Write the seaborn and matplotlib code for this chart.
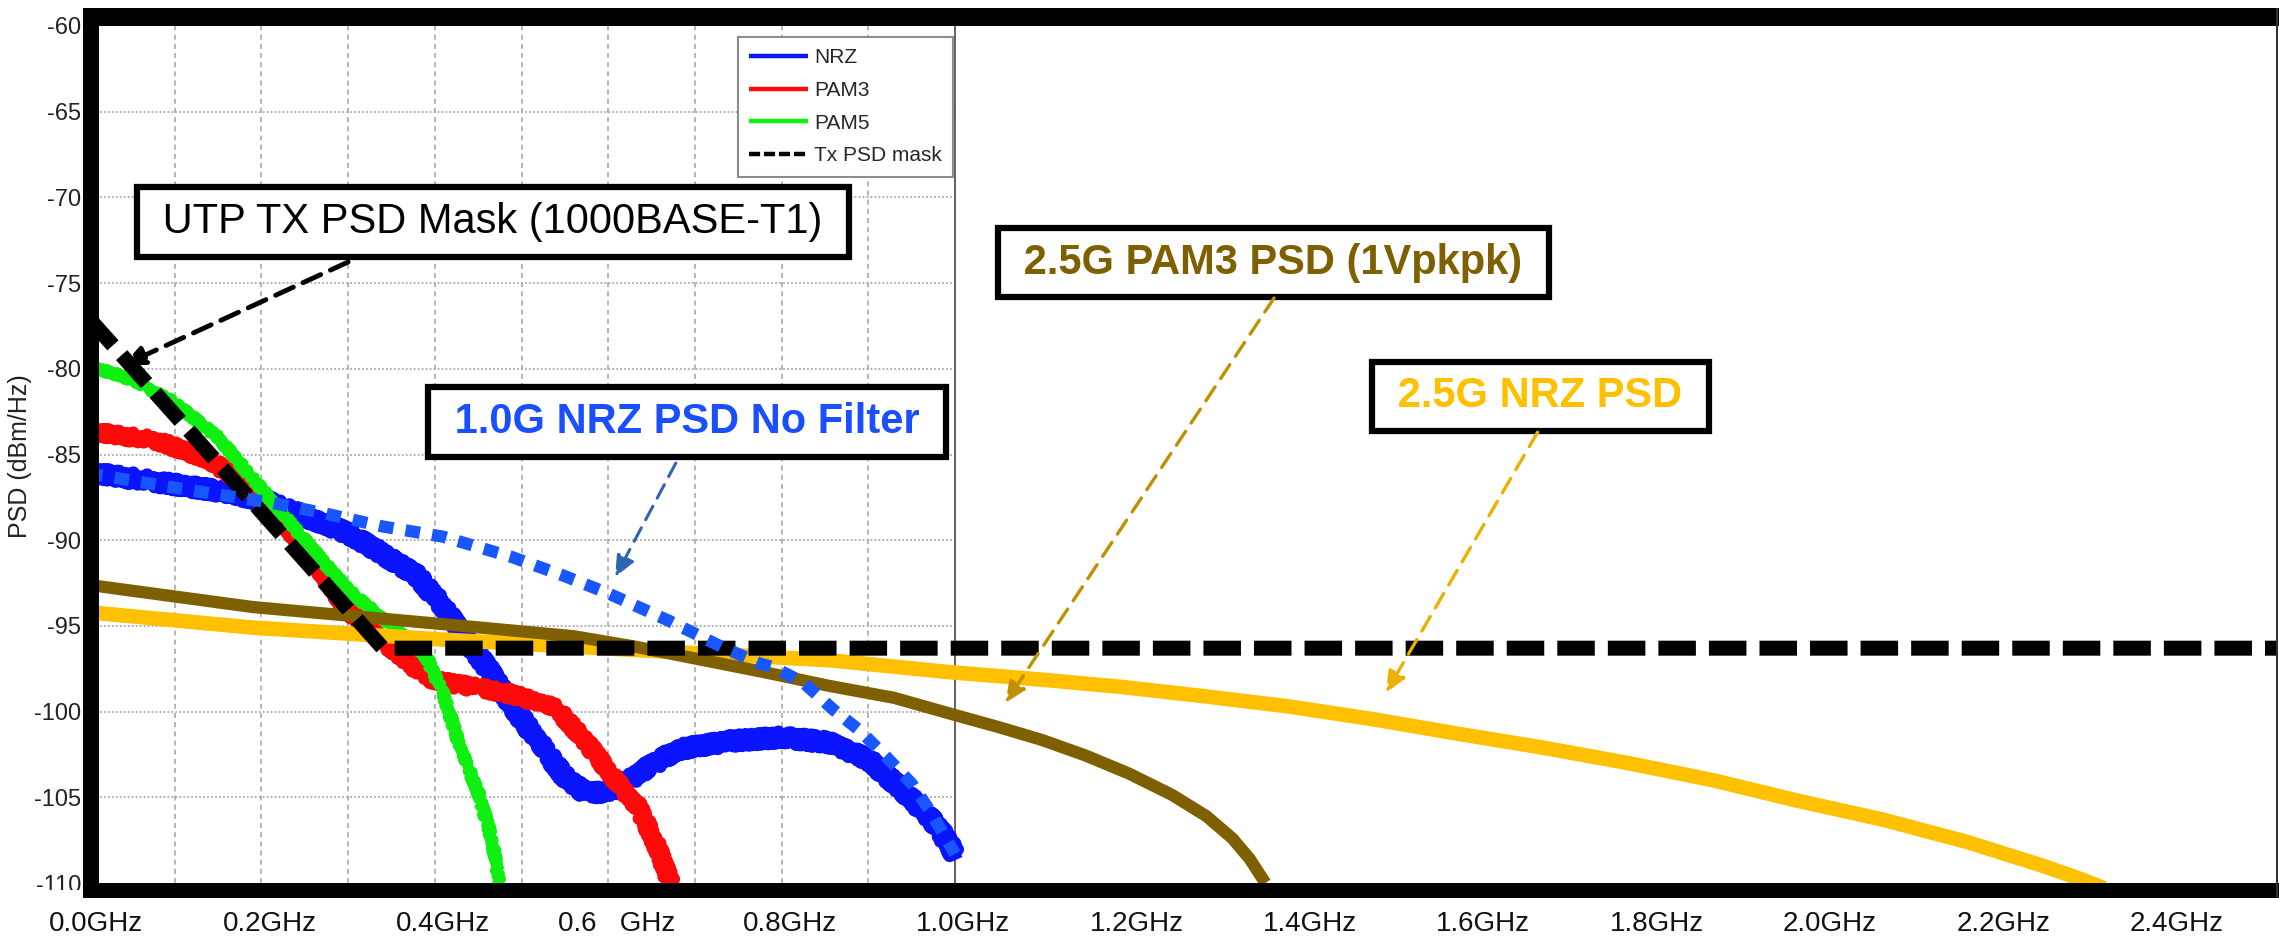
import matplotlib
matplotlib.use("Agg")
import matplotlib.pyplot as plt
import seaborn as sns
from matplotlib.patches import Rectangle
from matplotlib import font_manager
from matplotlib.transforms import ScaledTranslation

# ---------------- data (frequency in GHz, PSD in dBm/Hz) ----------------
nrz_f = [0.0, 0.08, 0.16, 0.21, 0.25, 0.30, 0.34, 0.38, 0.41, 0.43, 0.46, 0.49, 0.52,
         0.55, 0.575, 0.605, 0.635, 0.68, 0.745, 0.80, 0.855, 0.90, 0.94, 0.98, 1.0]
nrz_db = [-86.0, -86.6, -87.2, -87.8, -88.6, -89.6, -90.8, -92.1, -93.9, -95.4, -97.4, -99.7,
          -101.8, -103.8, -104.8, -104.6, -103.6, -102.2, -101.7, -101.5, -101.8, -102.8,
          -104.6, -106.7, -108.3]

pam3_f = [0.0, 0.08, 0.14, 0.19, 0.23, 0.26, 0.30, 0.34, 0.37, 0.40, 0.45, 0.49, 0.54,
          0.575, 0.605, 0.635, 0.655, 0.672]
pam3_db = [-83.6, -84.2, -85.3, -87.1, -89.2, -91.2, -94.1, -95.9, -97.2, -98.2, -98.6,
           -99.0, -99.8, -101.8, -103.8, -105.6, -107.7, -110.0]

pam5_f = [0.0, 0.05, 0.10, 0.15, 0.20, 0.24, 0.30, 0.35, 0.39, 0.41, 0.43, 0.45, 0.465,
          0.475]
pam5_db = [-79.8, -80.6, -82.0, -84.0, -87.0, -89.4, -92.9, -95.0, -96.8, -99.0, -102.2,
           -104.7, -107.3, -110.0]

mask_f = [0.0, 0.34, 2.6]
mask_db = [-77.0, -96.3, -96.3]

nofilt_f = [0.0, 0.12, 0.21, 0.27, 0.34, 0.41, 0.49, 0.55, 0.60, 0.67, 0.73, 0.775, 0.79,
            0.825, 0.86, 0.89, 0.92, 0.95, 0.97, 1.0]
nofilt_db = [-86.1, -87.1, -87.8, -88.4, -89.2, -89.8, -91.0, -92.1, -93.1, -94.7, -96.2,
             -97.2, -97.4, -98.3, -99.9, -101.1, -102.6, -104.2, -105.7, -108.3]

pam3_25g_f = [0.0, 0.19, 0.41, 0.56, 0.63, 0.71, 0.78, 0.855, 0.93, 1.0, 1.05, 1.10,
              1.15, 1.20, 1.25, 1.29, 1.32, 1.34, 1.358]
pam3_25g_db = [-92.6, -93.9, -94.9, -95.6, -96.2, -97.0, -97.7, -98.5, -99.2, -100.2,
               -100.9, -101.65, -102.55, -103.6, -104.85, -106.1, -107.4, -108.6, -110.0]

nrz_25g_f = [0.0, 0.19, 0.41, 0.63, 0.855, 0.994, 1.092, 1.190, 1.287, 1.385, 1.483,
             1.581, 1.678, 1.776, 1.874, 1.972, 2.070, 2.167, 2.255, 2.30, 2.325]
nrz_25g_db = [-94.2, -95.1, -95.8, -96.4, -97.0, -97.7, -98.1, -98.55, -99.1, -99.7,
              -100.45, -101.3, -102.1, -103.0, -104.0, -105.2, -106.3, -107.6, -109.0,
              -109.8, -110.3]

legend_labels = ["NRZ", "PAM3", "PAM5", "Tx PSD mask"]
y_ticks = [-60, -65, -70, -75, -80, -85, -90, -95, -100, -105, -110]
x_ticks = [0.0, 0.2, 0.4, 0.6, 0.8, 1.0, 1.2, 1.4, 1.6, 1.8, 2.0, 2.2, 2.4]
x_labels = ["0.0GHz", "0.2GHz", "0.4GHz", "0.6   GHz", "0.8GHz", "1.0GHz", "1.2GHz",
            "1.4GHz", "1.6GHz", "1.8GHz", "2.0GHz", "2.2GHz", "2.4GHz"]
grid_x = [0.1, 0.2, 0.3, 0.4, 0.5, 0.6, 0.7, 0.8, 0.9]
grid_y = [-65, -70, -75, -80, -85, -90, -95, -100, -105]

# ---------------- style ----------------
sns.set_theme(style="white")
plt.rcParams['font.family'] = ['Liberation Sans', 'DejaVu Sans']
names = {f.name for f in font_manager.fontManager.ttflist}
narrow = 'Liberation Sans Narrow' if 'Liberation Sans Narrow' in names else 'Liberation Sans'

W, H = 2279, 936
fig = plt.figure(figsize=(W / 100, H / 100), dpi=100)
fig.patch.set_facecolor('white')
ax = fig.add_axes([88 / W, 1 - 883 / H, (2278 - 88) / W, (883 - 26) / H])
ax.set_facecolor('white')
ax.set_xlim(0, (2278 - 88) / 867)
ax.set_ylim(-110, -60)
for s in ax.spines.values():
    s.set_visible(False)

# MATLAB-like grid on the left plot only (0 - 1 GHz)
ax.hlines(grid_y, 0, 1.0, colors='#a8a8a8', linestyles=(0, (1, 1.2)), lw=1.3, zorder=1)
ax.vlines(grid_x, -110, -60, colors='#a8a8a8', linestyles=(0, (3, 2.5)), lw=1.2, zorder=1)
ax.axvline(1.0, color='#555555', lw=1.3, zorder=1)


def draw(f, db, color, lw, z, dashes=None, sketch=None):
    sns.lineplot(x=f, y=db, ax=ax, color=color, linewidth=lw, errorbar=None,
                 sort=False, zorder=z)
    ln = ax.lines[-1]
    ln.set_solid_capstyle('butt')
    ln.set_solid_joinstyle('round')
    if dashes is not None:
        ln.set_dashes(dashes)
        ln.set_dash_capstyle('butt')
    if sketch is not None:
        ln.set_sketch_params(*sketch)
    return ln


ln_nrz = draw(nrz_f, nrz_db, '#0a14ff', 9.5, 2, sketch=(5.5, 3, 2))
ln_pam3 = draw(pam3_f, pam3_db, '#ff0a0a', 8.5, 3, sketch=(5, 3, 2))
ln_pam5 = draw(pam5_f, pam5_db, '#10f010', 6, 4, sketch=(3.5, 3, 2))
ln_y = draw(nrz_25g_f, nrz_25g_db, '#ffc000', 10.5, 5)
ln_b = draw(pam3_25g_f, pam3_25g_db, '#7f6000', 8.8, 6)
ln_mask = draw(mask_f, mask_db, '#000000', 10.8, 7, dashes=(2.5, 0.87))
ln_nf = draw(nofilt_f, nofilt_db, '#1856ff', 8.8, 8, dashes=(1.2, 1.0))

# ticks
ax.set_xticks(x_ticks)
ax.set_xticklabels(x_labels, fontsize=20, color='#111111')
ax.tick_params(axis='x', length=0, pad=20)
ax.set_yticks(y_ticks)
ax.set_yticklabels([str(v) for v in y_ticks], fontsize=17, fontfamily=narrow, color='#222222')
ax.tick_params(axis='y', length=0, pad=5)
ax.set_ylabel("PSD (dBm/Hz)", fontsize=18, color='#222222')
ax.yaxis.set_label_coords(-0.0256, 0.498)

# legend
leg = ax.legend(handles=[ln_nrz, ln_pam3, ln_pam5, ln_mask], labels=legend_labels,
                loc='upper left', bbox_to_anchor=(738 / W, 1 - 37 / H),
                bbox_transform=fig.transFigure, borderaxespad=0, frameon=True,
                fancybox=False, edgecolor='#8c8c8c', framealpha=1,
                prop={'family': narrow, 'size': 15}, handlelength=2.8,
                handletextpad=0.3, labelspacing=0.65, borderpad=0.55)
for l in leg.get_lines():
    l.set_linewidth(3.2)
    l.set_sketch_params(None)
leg.get_frame().set_linewidth(1.5)
leg.set_zorder(12)

# annotation boxes + dashed arrows
box = dict(boxstyle='square,pad=0.35', fc='white', ec='black', lw=4.5)
ax.text(0.467, -71.44, " UTP TX PSD Mask (1000BASE-T1) ", fontsize=30, color='black',
        ha='center', va='center', bbox=box, zorder=10)
ax.text(0.691, -83.1, " 1.0G NRZ PSD No Filter ", fontsize=30, fontweight='bold',
        color='#1a4fff', ha='center', va='center', bbox=box, zorder=10)
ax.text(1.367, -73.8, " 2.5G PAM3 PSD (1Vpkpk) ", fontsize=30, fontweight='bold',
        color='#7f6000', ha='center', va='center', bbox=box, zorder=10)
ax.text(1.675, -81.6, " 2.5G NRZ PSD ", fontsize=30, fontweight='bold',
        color='#ffc000', ha='center', va='center', bbox=box, zorder=10)


def arrow(start, end, color, lw, dash):
    ax.annotate("", xy=end, xytext=start, zorder=11,
                arrowprops=dict(arrowstyle="-|>,head_length=0.8,head_width=0.35",
                                color=color, lw=lw, linestyle=dash,
                                shrinkA=0, shrinkB=0, mutation_scale=16))


arrow((0.300, -73.77), (0.040, -79.8), 'black', 3.5, (0, (4, 2.2)))
arrow((0.678, -85.5), (0.608, -92.15), '#2e64b4', 2.2, (0, (5, 3)))
arrow((1.368, -75.87), (1.058, -99.5), '#bf9000', 2.4, (0, (5, 3)))
arrow((1.672, -83.7), (1.497, -98.9), '#ebb000', 2.4, (0, (5, 3)))


# thick black frame
def fig_rect(x0, y0, x1, y1, color, z=20):
    fig.add_artist(Rectangle((x0 / W, 1 - y1 / H), (x1 - x0) / W, (y1 - y0) / H,
                             transform=fig.transFigure, facecolor=color,
                             edgecolor='none', zorder=z))


fig_rect(83, 8, 2279, 26, 'black')
fig_rect(83, 8, 99, 898, 'black')
fig_rect(83, 883, 2279, 898, 'black')
fig_rect(2276, 8, 2278, 898, '#333333')
fig_rect(0, 890, 82, 902, 'white')

for lab in ax.get_xticklabels():
    lab.set_transform(lab.get_transform() + ScaledTranslation(0.08, 0, fig.dpi_scale_trans))

fig.savefig("out.png", dpi=100, facecolor='white')
